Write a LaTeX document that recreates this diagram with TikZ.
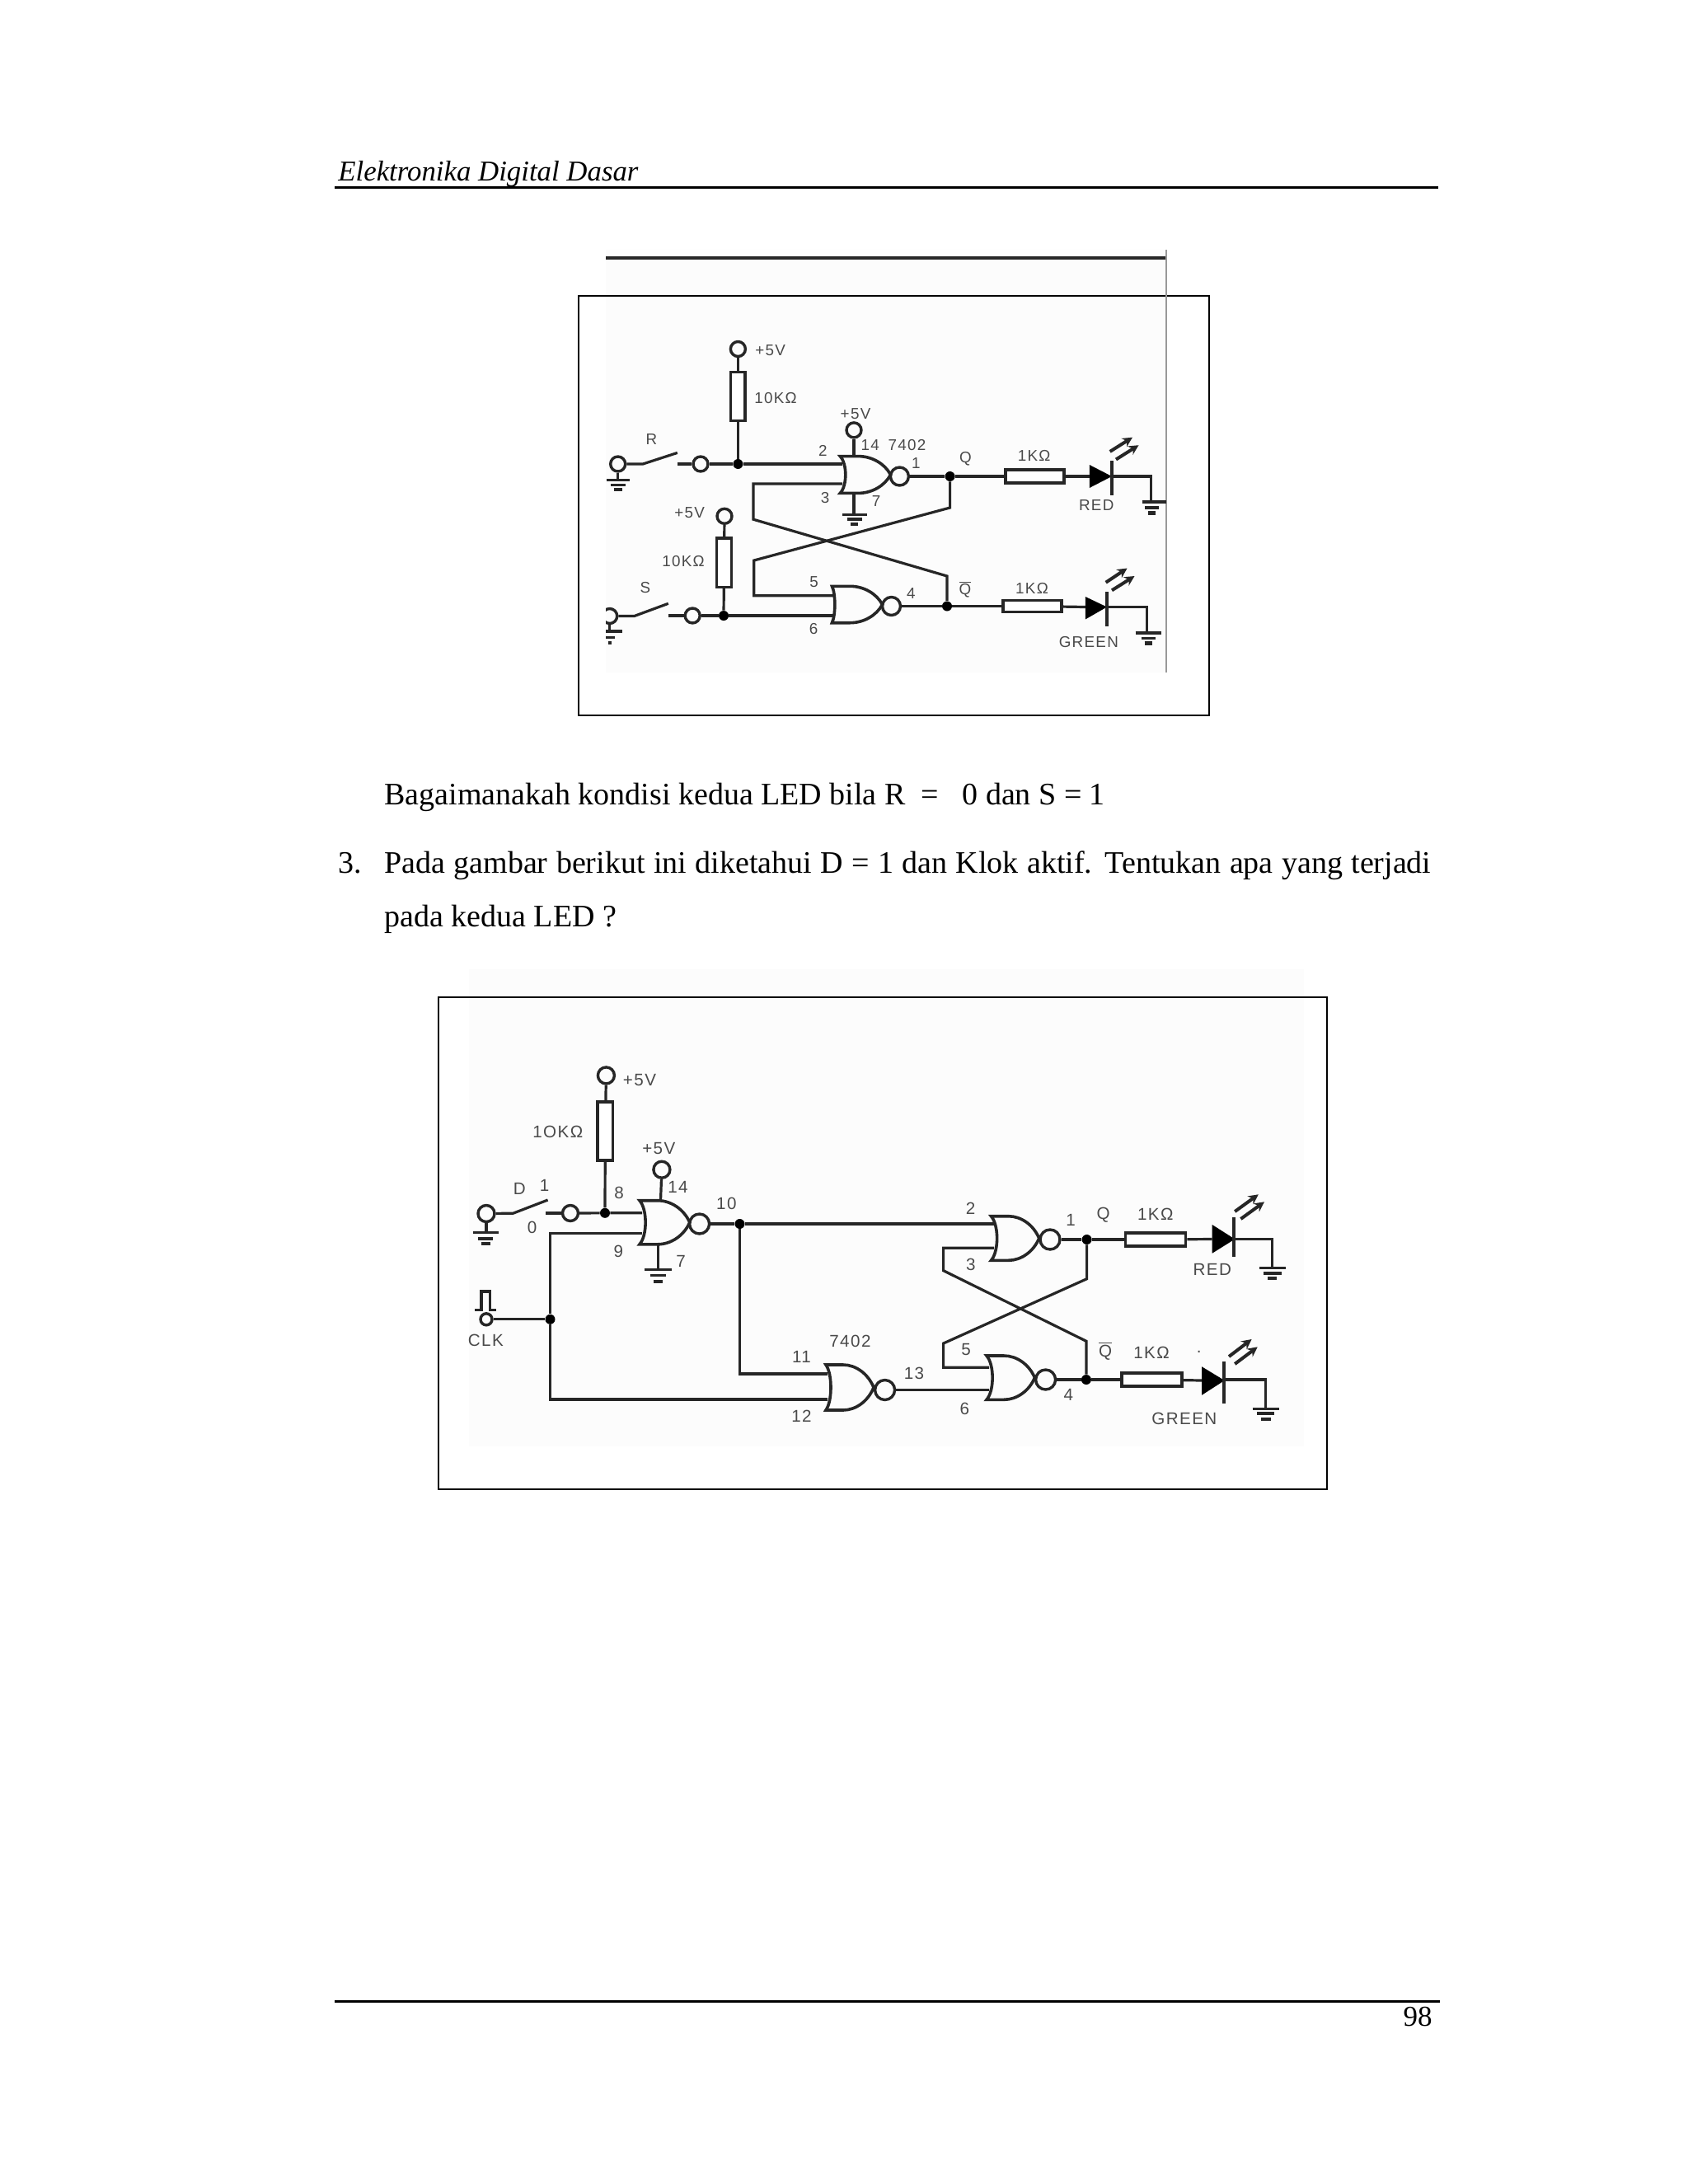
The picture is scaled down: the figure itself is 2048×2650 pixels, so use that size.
\documentclass[tikz,border=0pt]{standalone}
\usepackage{fontspec}
\usepackage{amsmath}
\setmainfont{Liberation Serif}
\newfontfamily\cfa[LetterSpace=7]{Liberation Sans}
\usetikzlibrary{arrows.meta}
\definecolor{inkc}{HTML}{262626}
\definecolor{labc}{HTML}{4A4A4A}
\definecolor{scanc}{HTML}{FCFCFC}
\tikzset{
  x=0.5pt,y=-0.5pt,
  wire/.style={draw=inkc,line width=1.6pt,line join=miter},
  gatebody/.style={draw=inkc,line width=1.8pt},
  resbox/.style={draw=inkc,line width=1.7pt,fill=white,rectangle,inner sep=0pt},
  term/.style={draw=inkc,line width=1.7pt,circle,inner sep=0pt,minimum size=#1},
  term/.default=9pt,
  jdot/.style={fill=black,circle,inner sep=0pt,minimum size=6pt},
  lbl/.style={inner sep=0pt,text=labc,font=\cfa\fontsize{9.4}{10}\selectfont},
  lblb/.style={inner sep=0pt,text=labc,font=\cfa\fontsize{10.3}{11}\selectfont},
  pagetext/.style={inner sep=0pt,anchor=base west,font=\fontsize{19.0}{23}\selectfont},
  framebox/.style={draw=black,line width=1.3pt},
  bar/.style={draw=inkc,line width=1.6pt},
  photon/.style={draw=inkc,line width=2pt,-{Stealth[length=6pt,width=6pt]}},
}
% name, back x, top y, bottom y, back mid x, tip x, bubble x, bubble y, bubble diameter
\newcommand{\norgate}[9]{%
  \pgfmathsetmacro\ngfx{#2+0.36*(#6-#2)}%
  \pgfmathsetmacro\ngmy{(#3+#4)/2}%
  \pgfmathsetmacro\ngca{\ngfx+0.42*(#6-\ngfx)}%
  \pgfmathsetmacro\ngcb{\ngfx+0.82*(#6-\ngfx)}%
  \pgfmathsetmacro\ngta{\ngmy-0.30*(#4-#3)}%
  \pgfmathsetmacro\ngtb{\ngmy+0.30*(#4-#3)}%
  \draw[gatebody] (#2,#3) -- (\ngfx,#3) .. controls (\ngca,#3) and (\ngcb,\ngta) .. (#6,\ngmy)
    .. controls (\ngcb,\ngtb) and (\ngca,#4) .. (\ngfx,#4) -- (#2,#4)
    .. controls (#5,\ngtb) and (#5,\ngta) .. (#2,#3) -- cycle;
  \node[term=#9] (#1) at (#7,#8) {};
}
% x, y1,y2,y3, half widths
\newcommand{\gndbars}[7]{%
  \draw[bar] (#1-#5,#2) -- (#1+#5,#2);
  \draw[bar] (#1-#6,#3) -- (#1+#6,#3);
  \draw[bar,line width=2.2pt] (#1-#7,#4) -- (#1+#7,#4);
}
\newcommand{\ledtri}[5]{% base x, top y, bottom y, tip x, tip y
  \fill[black] (#1,#2) -- (#4,#5) -- (#1,#3) -- cycle;
}
\begin{document}
\begin{tikzpicture}
\useasboundingbox (0,0) rectangle (2048,2650);
\fill[white] (0,0) rectangle (2048,2650);

% ---------- page furniture
\node[pagetext,font=\itshape\fontsize{17.4}{20}\selectfont] (hdr) at (410,219) {Elektronika Digital Dasar};
\draw[black,line width=1.5pt] (406,227) -- (1745,227);
\draw[black,line width=1.5pt] (406,2428) -- (1747,2428);
\node[pagetext,font=\fontsize{17.5}{20}\selectfont,anchor=base east] (pgn) at (1738,2458) {98};
\node[pagetext] (t1) at (466,976) {Bagaimanakah kondisi kedua LED bila R\ \ =\ \ \ 0 dan S = 1};
\node[pagetext] (t2a) at (410,1059) {3.};
\node[pagetext] (t2) at (466,1059) {\makebox[635pt][s]{Pada gambar berikut ini diketahui D = 1 dan Klok aktif. Tentukan apa yang terjadi}};
\node[pagetext] (t3) at (466,1124) {pada kedua LED ?};

% ---------- first circuit
\fill[scanc] (735,303) rectangle (1415,816);
\draw[inkc,line width=2pt] (735,312.5) -- (1415,312.5);
\draw[framebox] (702,359) rectangle (1467,868);
\draw[black!40,line width=1pt] (1415,303) -- (1415,816);
\begin{scope}
\clip (735,303) rectangle (1415,816);
% supply and pull-up R
\node[term] (a5v) at (895.4,423.5) {};
\node[resbox,minimum width=8.7pt,minimum height=29.5pt] (ar1) at (895.4,481) {};
\node[jdot] (aj1) at (895.4,563) {};
\draw[wire] (a5v) -- (ar1);
\draw[wire] (ar1) -- (aj1);
% R switch
\node[term] (asl) at (749.7,563) {};
\node[term] (asr) at (850,563) {};
\coordinate (asa) at (780,563);
\coordinate (asb) at (821.8,549.4);
\coordinate (asc) at (821.8,563);
\draw[wire] (asl) -- (asa) -- (asb);
\draw[wire] (asc) -- (asr);
\coordinate (ag1) at (749.7,582.3);
\draw[wire] (asl) -- (ag1);
\gndbars{749.7}{582.3}{588.3}{594}{14}{9}{5}
% gate 1
\norgate{ab1}{1019.3}{553.6}{598.4}{1028}{1080.5}{1091.4}{578}{11pt}
\coordinate (ag1i1) at (1022,563);
\coordinate (ag1i2) at (1022,586.9);
\draw[wire] (asr) -- (aj1) -- (ag1i1);
\node[term] (a5vg) at (1036,521.9) {};
\coordinate (ag1t) at (1036,553.6);
\draw[wire] (a5vg) -- (ag1t);
\coordinate (ag1b) at (1036,598.4);
\coordinate (ag1g) at (1036,624.4);
\draw[wire] (ag1b) -- (ag1g);
\gndbars{1036.5}{624.4}{630}{636}{15}{9}{4.5}
% output Q
\node[jdot] (ajq) at (1152.6,578) {};
\node[resbox,minimum width=35.5pt,minimum height=8pt] (ar2) at (1255.4,578) {};
\draw[wire] (ab1) -- (ajq) -- (ar2);
\ledtri{1321.8}{564}{592}{1349}{578}
\coordinate (al1b) at (1321.8,578);
\draw[wire] (ar2) -- (al1b);
\draw[bar] (1349,559.4) -- (1349,600.7);
\coordinate (al1a) at (1349,578);
\coordinate (al1c) at (1396.4,578);
\coordinate (al1d) at (1396.4,609);
\draw[wire] (al1a) -- (al1c) -- (al1d);
\draw[bar] (1385.5,609) -- (1415,609);
\draw[bar] (1389,616) -- (1406,616);
\draw[bar,line width=2.2pt] (1392.5,622.5) -- (1401.5,622.5);
\draw[photon] (1346.7,547.9) -- (1374,530.7);
\draw[photon] (1354,557.5) -- (1381.5,540.2);
% S branch
\node[term] (a5w) at (879,626.3) {};
\node[resbox,minimum width=9pt,minimum height=29.7pt] (ar3) at (878.5,682.7) {};
\node[jdot] (aj2) at (878,747) {};
\draw[wire] (a5w) -- (ar3);
\draw[wire] (ar3) -- (aj2);
\node[term] (atl) at (739.7,747.5) {};
\node[term] (atr) at (840.2,747) {};
\coordinate (ata) at (769.6,747.5);
\coordinate (atb) at (810.8,732.3);
\coordinate (atc) at (810.8,747);
\draw[wire] (atl) -- (ata) -- (atb);
\draw[wire] (atc) -- (atr);
\coordinate (atg) at (739.7,766);
\draw[wire] (atl) -- (atg);
\gndbars{739.7}{766}{773.7}{780}{15}{6}{2}
% gate 2
\norgate{ab2}{1009.4}{711.3}{755.7}{1014}{1070.5}{1081.5}{735.5}{11pt}
\coordinate (ag2i1) at (1011,722.8);
\coordinate (ag2i2) at (1011,747);
\draw[wire] (atr) -- (aj2) -- (ag2i2);
\node[jdot] (ajn) at (1149,735.5) {};
\node[resbox,minimum width=35.5pt,minimum height=7pt] (ar4) at (1252.5,735.5) {};
\draw[wire] (ab2) -- (ajn) -- (ar4);
\ledtri{1316.8}{724}{751.5}{1343}{736.5}
\coordinate (al2b) at (1316.8,736.5);
\draw[wire] (ar4) -- (al2b);
\draw[bar] (1343,718) -- (1343,759.5);
\coordinate (al2a) at (1343,736.5);
\coordinate (al2c) at (1391.4,736.5);
\coordinate (al2d) at (1391.4,768);
\draw[wire] (al2a) -- (al2c) -- (al2d);
\gndbars{1393}{768}{774.8}{780.6}{15.5}{8.5}{4.5}
\draw[photon] (1341.7,706.7) -- (1367.6,689.5);
\draw[photon] (1349,716.3) -- (1376.5,699);
% cross-coupling
\coordinate (axa) at (914,586.9);
\coordinate (axb) at (914,630.2);
\coordinate (axc) at (1149,699);
\draw[wire] (ag1i2) -- (axa) -- (axb) -- (axc) -- (ajn);
\coordinate (aya) at (1152.6,616);
\coordinate (ayb) at (914.8,680);
\coordinate (ayc) at (914.8,722.8);
\draw[wire] (ajq) -- (aya) -- (ayb) -- (ayc) -- (ag2i1);
% labels
\node[lbl] (al01) at (934.7,424.7) {+5V};
\node[lbl] (al02) at (941,483) {10KΩ};
\node[lbl] (al03) at (790.4,533.3) {R};
\node[lbl] (al04) at (1038,502) {+5V};
\node[lbl] (al05) at (1055.6,540) {14};
\node[lbl] (al06) at (1100.4,540) {7402};
\node[lbl] (al07) at (998.4,546.7) {2};
\node[lbl] (al08) at (1001,604.5) {3};
\node[lbl] (al09) at (1063,608.4) {7};
\node[lbl] (al10) at (1111.3,562) {1};
\node[lbl] (al11) at (1171.5,556.3) {Q};
\node[lbl] (al12) at (1254.6,553.2) {1KΩ};
\node[lbl] (al13) at (1330.2,613) {RED};
\node[lbl] (al14) at (836.7,622.5) {+5V};
\node[lbl] (al15) at (829,680.7) {10KΩ};
\node[lbl] (al16) at (783,713) {S};
\node[lbl] (al17) at (987.5,706) {5};
\node[lbl] (al18) at (987,763) {6};
\node[lbl] (al19) at (1105.4,720) {4};
\node[lbl] (al20) at (1171,715) {$\overline{\hbox{Q}}$};
\node[lbl] (al21) at (1252,713.6) {1KΩ};
\node[lbl] (al22) at (1320.8,779.4) {GREEN};
\end{scope}

% ---------- second circuit
\fill[scanc] (569,1176) rectangle (1582,1755);
\draw[framebox] (532,1210) rectangle (1610,1807);
% supply, pull-up, D switch
\node[term=10pt] (b5v) at (735.4,1304.9) {};
\node[resbox,minimum width=9.3pt,minimum height=35.6pt] (br1) at (734.3,1372.4) {};
\node[jdot] (bj1) at (734,1471.8) {};
\draw[wire] (b5v) -- (br1);
\draw[wire] (br1) -- (bj1);
\node[term=10pt] (bsl) at (590,1472.5) {};
\node[term=9.5pt] (bsr) at (692,1472) {};
\coordinate (bsa) at (622.5,1472.2);
\coordinate (bsb) at (664.6,1456);
\coordinate (bsc) at (661.8,1472);
\draw[wire] (bsl) -- (bsa) -- (bsb);
\draw[wire] (bsc) -- (bsr);
\coordinate (bsg) at (590,1495.5);
\draw[wire] (bsl) -- (bsg);
\gndbars{589.3}{1495.5}{1502.9}{1509}{15.7}{9}{5.3}
% gate 3
\norgate{bb3}{776}{1456.7}{1509.8}{785.5}{836.8}{848.6}{1485}{12pt}
\coordinate (bg3a) at (779,1471.8);
\coordinate (bg3b) at (779,1496.7);
\draw[wire] (bsr) -- (bj1) -- (bg3a);
\node[term=10pt] (b5g) at (802.9,1419.2) {};
\coordinate (bg3t) at (801.5,1456.7);
\draw[wire] (b5g) -- (bg3t);
\coordinate (bg3d) at (798.2,1509.8);
\coordinate (bg3e) at (798.2,1540.4);
\draw[wire] (bg3d) -- (bg3e);
\gndbars{798.2}{1540.4}{1547.8}{1554.7}{16.3}{9.7}{5.3}
\node[jdot] (bj2) at (897.5,1485) {};
\draw[wire] (bb3) -- (bj2);
% gate 1
\norgate{bb1}{1202.5}{1475.7}{1529.3}{1212}{1260.7}{1274}{1504}{12pt}
\coordinate (bg1a) at (1206,1485);
\coordinate (bg1b) at (1206,1514.3);
\draw[wire] (bj2) -- (bg1a);
% CLK
\draw[bar] (576,1589.4) -- (584,1589.4) -- (584,1567) -- (594.6,1567) -- (594.6,1589.4) -- (602,1589.4);
\node[term=7pt] (bck) at (590,1600.8) {};
\node[jdot] (bj3) at (667.5,1600.8) {};
\draw[wire] (bck) -- (bj3);
\coordinate (bca) at (667.5,1496.7);
\coordinate (bcb) at (667.5,1698);
% gate 4
\norgate{bb4}{1002}{1656}{1711}{1010}{1060}{1073.6}{1686.5}{12pt}
\coordinate (bg4a) at (1004,1667);
\coordinate (bg4b) at (1004,1698);
\coordinate (bd1) at (897.5,1667);
\draw[wire] (bj2) -- (bd1) -- (bg4a);
\draw[wire] (bg3b) -- (bca) -- (bj3) -- (bcb) -- (bg4b);
% gate 2
\norgate{bb2}{1197}{1645}{1698.3}{1206.5}{1255.4}{1268.6}{1674}{12pt}
\coordinate (bg2a) at (1200,1659.3);
\coordinate (bg2b) at (1200,1686.5);
\draw[wire] (bb4) -- (bg2b);
% output Q
\node[jdot] (bjq) at (1318.6,1504) {};
\node[resbox,minimum width=36.6pt,minimum height=8pt] (br2) at (1402,1504) {};
\draw[wire] (bb1) -- (bjq) -- (br2);
\ledtri{1470.7}{1486}{1520.7}{1498.2}{1503.5}
\coordinate (bl1b) at (1470.7,1503.5);
\draw[wire] (br2) -- (bl1b);
\draw[bar] (1497,1476.7) -- (1497,1525);
\coordinate (bl1a) at (1497,1503.5);
\coordinate (bl1c) at (1543.6,1503.5);
\coordinate (bl1d) at (1543.6,1538.3);
\draw[wire] (bl1a) -- (bl1c) -- (bl1d);
\gndbars{1543.7}{1538.3}{1545}{1551}{15.8}{10.8}{5.3}
\draw[photon] (1498.2,1470) -- (1526.8,1449.3);
\draw[photon] (1505.4,1479) -- (1534,1458.3);
% output Qbar
\node[jdot] (bjn) at (1317.9,1674) {};
\node[resbox,minimum width=36.6pt,minimum height=8pt] (br4) at (1397.4,1674) {};
\draw[wire] (bb2) -- (bjn) -- (br4);
\ledtri{1458.2}{1658.3}{1692.7}{1485.7}{1675}
\coordinate (bl2b) at (1458.2,1675);
\draw[wire] (br4) -- (bl2b);
\draw[bar] (1485,1651.7) -- (1485,1703.3);
\coordinate (bl2a) at (1485,1674);
\coordinate (bl2c) at (1535.7,1674);
\coordinate (bl2d) at (1535.7,1709.3);
\draw[wire] (bl2a) -- (bl2c) -- (bl2d);
\gndbars{1535.7}{1709.3}{1715}{1721.7}{16.1}{10.7}{5.8}
\draw[photon] (1491,1646) -- (1518.6,1625);
\draw[photon] (1498.2,1655) -- (1525.7,1634.3);
% cross-coupling
\coordinate (bxa) at (1144.6,1514.3);
\coordinate (bxb) at (1144.6,1541.7);
\coordinate (bxc) at (1317.9,1627.3);
\draw[wire] (bg1b) -- (bxa) -- (bxb) -- (bxc) -- (bjn);
\coordinate (bya) at (1318.6,1551.7);
\coordinate (byb) at (1144.6,1630);
\coordinate (byc) at (1144.6,1659.3);
\draw[wire] (bjq) -- (bya) -- (byb) -- (byc) -- (bg2a);
% labels
\node[lblb] (bl01) at (776,1310.2) {+5V};
\node[lblb] (bl02) at (676.8,1373) {1OKΩ};
\node[lblb] (bl03) at (799.3,1393.5) {+5V};
\node[lblb] (bl04) at (822.5,1440.8) {14};
\node[lblb] (bl05) at (751,1447.8) {8};
\node[lblb] (bl06) at (630.4,1442.4) {D};
\node[lblb] (bl07) at (660.7,1438.4) {1};
\node[lblb] (bl08) at (645.7,1489.8) {0};
\node[lblb] (bl09) at (750.4,1518.4) {9};
\node[lblb] (bl10) at (826,1530.6) {7};
\node[lblb] (bl11) at (881.4,1460) {10};
\node[lblb] (bl12) at (589.3,1626) {CLK};
\node[lblb] (bl13) at (1031.4,1627.3) {7402};
\node[lblb] (bl14) at (972.5,1646.5) {11};
\node[lblb] (bl15) at (972.5,1718.4) {12};
\node[lblb] (bl16) at (1109,1666.7) {13};
\node[lblb] (bl17) at (1177.5,1466) {2};
\node[lblb] (bl18) at (1299,1480.7) {1};
\node[lblb] (bl19) at (1338.6,1474) {Q};
\node[lblb] (bl20) at (1401.8,1473.3) {1KΩ};
\node[lblb] (bl21) at (1470.7,1540.7) {RED};
\node[lblb] (bl22) at (1177.9,1534.3) {3};
\node[lblb] (bl23) at (1172,1637.3) {5};
\node[lblb] (bl24) at (1170.4,1709.3) {6};
\node[lblb] (bl25) at (1296.4,1692.7) {4};
\node[lblb] (bl26) at (1341,1639) {$\overline{\hbox{Q}}$};
\node[lblb] (bl27) at (1397,1641.7) {1KΩ};
\node[lblb] (bl28) at (1454.6,1640) {.};
\node[lblb] (bl29) at (1436.8,1721.7) {GREEN};
\end{tikzpicture}
\end{document}
